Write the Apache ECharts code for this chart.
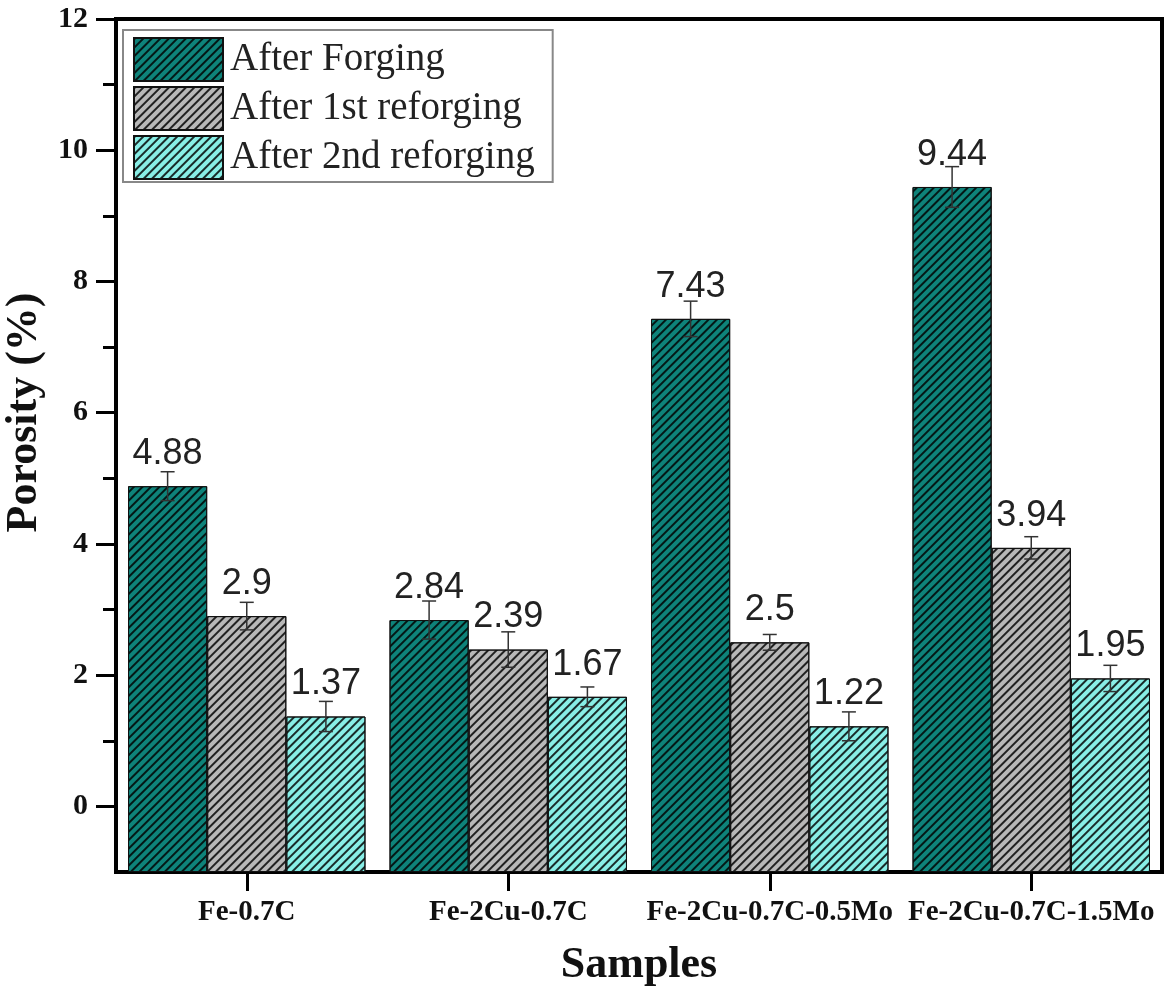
<!DOCTYPE html>
<html>
<head>
<meta charset="utf-8">
<script src="https://cdn.jsdelivr.net/npm/echarts@6/dist/echarts.min.js"></script>
<style>
  html, body { margin: 0; padding: 0; background: #fff; }
  #chart { width: 1169px; height: 991px; }
</style>
</head>
<body>
<div id="chart"></div>
<script>
// Sample compositions along the x axis
const samples = ['Fe-0.7C', 'Fe-2Cu-0.7C', 'Fe-2Cu-0.7C-0.5Mo', 'Fe-2Cu-0.7C-1.5Mo'];
const seriesNames = ['After Forging', 'After 1st reforging', 'After 2nd reforging'];

// Porosity (%) per processing stage
const afterForging = [4.88, 2.84, 7.43, 9.44];
const after1st = [2.9, 2.39, 2.5, 3.94];
const after2nd = [1.37, 1.67, 1.22, 1.95];

// Standard deviation (+/-) for each bar
const errForging = [0.22, 0.29, 0.27, 0.31];
const err1st = [0.21, 0.27, 0.12, 0.17];
const err2nd = [0.23, 0.15, 0.22, 0.20];

// Axis ticks
const majorTicks = [0, 2, 4, 6, 8, 10, 12];
const minorTicks = [1, 3, 5, 7, 9, 11];

// Bars rise from the bottom of the value axis rather than from zero
const axisBottom = -1;
const axisTop = 12;

const colors = ['#0e837a', '#b8b8b8', '#88eee6'];
const categoryGap = 0.092;
const serif = 'Liberation Serif';

const hatch = {
  symbol: 'rect',
  symbolSize: 1,
  symbolKeepAspect: false,
  color: 'rgba(0,0,0,0.82)',
  dashArrayX: [1, 0],
  dashArrayY: [1.7, 3.3],
  rotation: -Math.PI / 4
};

const values = [afterForging, after1st, after2nd];
const errors = [errForging, err1st, err2nd];

const barSeries = [];
values.forEach((vals, i) => {
  const stack = 'stage' + i;
  // invisible pedestal from 0 down to the axis bottom
  barSeries.push({
    name: 'base' + i,
    type: 'bar',
    stack: stack,
    stackStrategy: 'all',
    data: vals.map(() => axisBottom),
    silent: true,
    itemStyle: { color: 'transparent' },
    barGap: '0%',
    barCategoryGap: (categoryGap * 100) + '%',
    z: 1
  });
  // visible bar: spans from the axis bottom up to the measured value
  barSeries.push({
    name: seriesNames[i],
    type: 'bar',
    stack: stack,
    stackStrategy: 'all',
    data: vals.map(v => v - axisBottom),
    barGap: '0%',
    barCategoryGap: (categoryGap * 100) + '%',
    itemStyle: {
      color: colors[i],
      borderColor: '#111',
      borderWidth: 1,
      decal: hatch
    },
    label: {
      show: true,
      position: 'top',
      distance: 14,
      fontFamily: 'Liberation Sans',
      fontSize: 36,
      color: '#222',
      formatter: p => String(vals[p.dataIndex])
    },
    z: 2
  });
});

// Error bars, one item per bar: [category index, series index, value, deviation]
const errorData = [];
values.forEach((vals, s) => {
  vals.forEach((v, c) => errorData.push([c, s, v, errors[s][c]]));
});

const errorSeries = {
  type: 'custom',
  name: 'error',
  data: errorData,
  z: 5,
  silent: true,
  encode: { x: 0, y: 2 },
  renderItem: function (params, api) {
    const c = api.value(0);
    const s = api.value(1);
    const v = api.value(2);
    const e = api.value(3);
    const band = api.size([1, 0])[0];
    const barW = band * (1 - categoryGap) / 3;
    const center = api.coord([c, v]);
    const x = center[0] + (s - 1) * barW;
    const yHi = api.coord([c, v + e])[1];
    const yLo = api.coord([c, v - e])[1];
    const cap = 7;
    const style = { stroke: '#333', lineWidth: 1.5 };
    return {
      type: 'group',
      children: [
        { type: 'line', shape: { x1: x, y1: yHi, x2: x, y2: yLo }, style: style },
        { type: 'line', shape: { x1: x - cap, y1: yHi, x2: x + cap, y2: yHi }, style: style },
        { type: 'line', shape: { x1: x - cap, y1: yLo, x2: x + cap, y2: yLo }, style: style }
      ]
    };
  }
};

const chart = echarts.init(document.getElementById('chart'), null, { renderer: 'canvas' });
chart.setOption({
  backgroundColor: '#fff',
  animation: false,
  grid: {
    left: 116, right: 7, top: 19, bottom: 119,
    show: true,
    borderColor: '#000',
    borderWidth: 4,
    containLabel: false,
    outerBoundsMode: 'none'
  },
  legend: {
    data: seriesNames,
    orient: 'vertical',
    left: 123,
    top: 30,
    itemWidth: 89,
    itemHeight: 43,
    itemGap: 4,
    padding: [7, 18, 2, 10],
    borderColor: '#888',
    borderWidth: 2,
    icon: 'rect',
    textStyle: { fontFamily: serif, fontSize: 39, color: '#222', padding: [0, 0, 0, 2] }
  },
  xAxis: {
    type: 'category',
    data: samples,
    name: 'Samples',
    nameLocation: 'middle',
    nameGap: 72,
    nameTextStyle: { fontFamily: serif, fontWeight: 'bold', fontSize: 44, color: '#111' },
    axisLine: { show: true, onZero: false, lineStyle: { color: '#000', width: 4 } },
    axisTick: { show: true, alignWithLabel: true, length: 19, lineStyle: { color: '#000', width: 3 } },
    axisLabel: { interval: 0, margin: 26, fontFamily: serif, fontWeight: 'bold', fontSize: 29, color: '#111' },
    splitLine: { show: false }
  },
  yAxis: [
    {
      type: 'value',
      min: axisBottom,
      max: axisTop,
      interval: 1,
      name: 'Porosity (%)',
      nameLocation: 'middle',
      nameGap: 64,
      nameRotate: 90,
      nameTextStyle: { fontFamily: serif, fontWeight: 'bold', fontSize: 44, color: '#111', padding: [0, 0, 0, 66] },
      axisLine: { show: true, lineStyle: { color: '#000', width: 4 } },
      axisTick: { show: true, length: 20, customValues: majorTicks, lineStyle: { color: '#000', width: 3 } },
      axisLabel: { margin: 28, customValues: majorTicks, fontFamily: serif, fontWeight: 'bold', fontSize: 30, color: '#111' },
      splitLine: { show: false }
    },
    {
      type: 'value',
      min: axisBottom,
      max: axisTop,
      interval: 1,
      position: 'left',
      axisLine: { show: false },
      axisTick: { show: true, length: 13, customValues: minorTicks, lineStyle: { color: '#000', width: 3 } },
      axisLabel: { show: false },
      splitLine: { show: false }
    }
  ],
  series: barSeries.concat([errorSeries])
});
</script>
</body>
</html>
